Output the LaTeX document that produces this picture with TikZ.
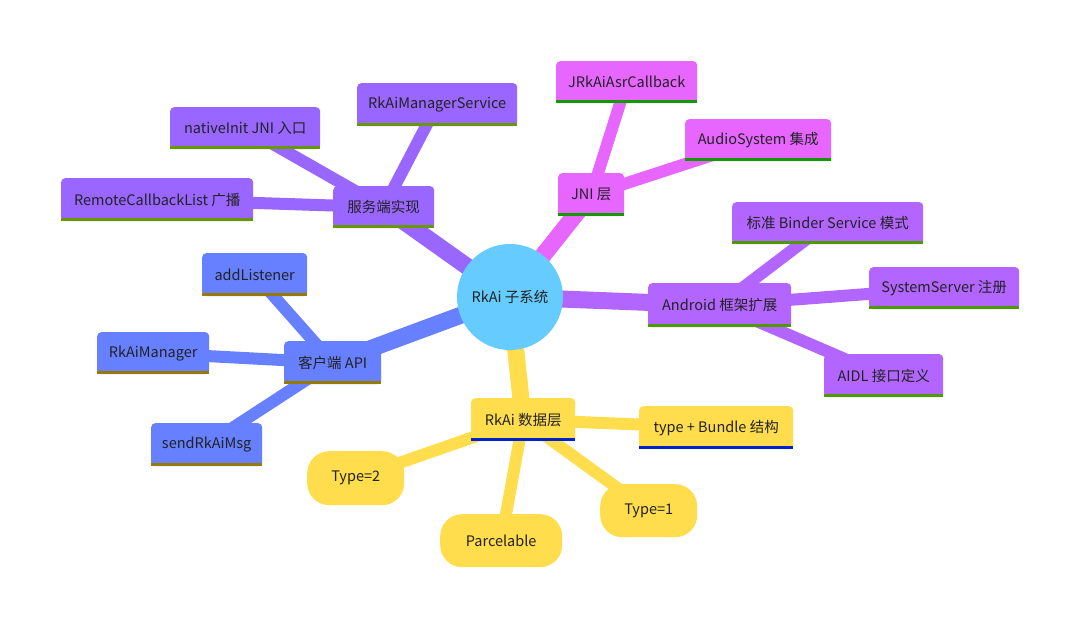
\documentclass[tikz,border=0pt]{standalone}
\usepackage{fontspec}
\setmainfont{Noto Sans CJK SC}
\pgfdeclarelayer{bg}
\pgfsetlayers{bg,main}
\definecolor{rootc}{HTML}{66CCFF}
\definecolor{srvc}{HTML}{9966FF}
\definecolor{srvb}{HTML}{669900}
\definecolor{jnic}{HTML}{E666FF}
\definecolor{jnib}{HTML}{119900}
\definecolor{andc}{HTML}{B366FF}
\definecolor{andb}{HTML}{4C9900}
\definecolor{clic}{HTML}{6680FF}
\definecolor{clib}{HTML}{997A00}
\definecolor{datc}{HTML}{FFDD4D}
\definecolor{datb}{HTML}{0022CC}
\definecolor{txt}{HTML}{222222}
\tikzset{
  mmbox/.style={fill=#1, rounded corners=4pt, anchor=north west, inner sep=0pt, text=txt, font=\fontsize{14.5}{17}\selectfont},
  mmpill/.style={fill=#1, rounded corners=22pt, anchor=north west, inner sep=0pt, text=txt, font=\fontsize{14.5}{17}\selectfont},
  rootedge/.style={draw=#1, line width=17pt},
  leafedge/.style={draw=#1, line width=12pt},
}
% \mmnode{name}{x1}{y1}{x2}{y2}{fill}{border}{text}
\newcommand{\mmnode}[8]{%
  \node[mmbox=#6, minimum width={(#4-#2)*1pt}, minimum height={(#5-#3)*1pt}] (#1) at (#2,#3) {#8};
  \draw[#7, line width=3pt] ([yshift=1.5pt]#1.south west) -- ([yshift=1.5pt]#1.south east);
}
\newcommand{\mmpillnode}[7]{%
  \node[mmpill=#6, minimum width={(#4-#2)*1pt}, minimum height={(#5-#3)*1pt}] (#1) at (#2,#3) {#7};
}
\begin{document}
\begin{tikzpicture}[x=1pt,y=-1pt]
\useasboundingbox (0,0) rectangle (1080,628);
% root
\node[circle, fill=rootc, minimum size=106pt, inner sep=0pt, text=txt, font=\fontsize{14.5}{17}\selectfont] (root) at (510,297) {RkAi 子系统};
% server branch
\mmnode{srv}{333}{186}{434}{228}{srvc}{srvb}{服务端实现}
\mmnode{rms}{357}{83}{517}{126}{srvc}{srvb}{RkAiManagerService}
\mmnode{nat}{170}{107}{320}{149}{srvc}{srvb}{nativeInit JNI 入口}
\mmnode{rcl}{61}{178}{253}{221}{srvc}{srvb}{RemoteCallbackList 广播}
% JNI branch
\mmnode{jni}{558}{173}{624}{216}{jnic}{jnib}{JNI 层}
\mmnode{jrk}{556}{61}{697}{103}{jnic}{jnib}{JRkAiAsrCallback}
\mmnode{aud}{685}{119}{831}{161}{jnic}{jnib}{AudioSystem 集成}
% Android branch
\mmnode{and}{648}{283}{791}{327}{andc}{andb}{Android 框架扩展}
\mmnode{bnd}{732}{202}{923}{244}{andc}{andb}{标准 Binder Service 模式}
\mmnode{sys}{869}{267}{1019}{309}{andc}{andb}{SystemServer 注册}
\mmnode{aidl}{824}{354}{943}{397}{andc}{andb}{AIDL 接口定义}
% client branch
\mmnode{cli}{284}{341}{381}{384}{clic}{clib}{客户端 API}
\mmnode{add}{202}{253}{307}{296}{clic}{clib}{addListener}
\mmnode{mgr}{97}{332}{209}{374}{clic}{clib}{RkAiManager}
\mmnode{snd}{151}{423}{262}{466}{clic}{clib}{sendRkAiMsg}
% data branch
\mmnode{dat}{471}{398}{575}{441}{datc}{datb}{RkAi 数据层}
\mmnode{tbd}{639}{406}{793}{449}{datc}{datb}{type + Bundle 结构}
\mmpillnode{t1}{600}{484}{697}{537}{datc}{Type=1}
\mmpillnode{par}{440}{514}{562}{567}{datc}{Parcelable}
\mmpillnode{t2}{307}{451}{404}{505}{datc}{Type=2}
% edges
\begin{pgfonlayer}{bg}
\fill[white] (0,0) rectangle (1080,628);
\draw[rootedge=srvc] (root.center) -- (srv.center);
\draw[rootedge=jnic] (root.center) -- (jni.center);
\draw[rootedge=andc] (root.center) -- (and.center);
\draw[rootedge=clic] (root.center) -- (cli.center);
\draw[rootedge=datc] (root.center) -- (dat.center);
\draw[leafedge=srvc] (srv.center) -- (rms.center);
\draw[leafedge=srvc] (srv.center) -- (nat.center);
\draw[leafedge=srvc] (srv.center) -- (rcl.center);
\draw[leafedge=jnic] (jni.center) -- (jrk.center);
\draw[leafedge=jnic] (jni.center) -- (aud.center);
\draw[leafedge=andc] (and.center) -- (bnd.center);
\draw[leafedge=andc] (and.center) -- (sys.center);
\draw[leafedge=andc] (and.center) -- (aidl.center);
\draw[leafedge=clic] (cli.center) -- (add.center);
\draw[leafedge=clic] (cli.center) -- (mgr.center);
\draw[leafedge=clic] (cli.center) -- (snd.center);
\draw[leafedge=datc] (dat.center) -- (tbd.center);
\draw[leafedge=datc] (dat.center) -- (t1.center);
\draw[leafedge=datc] (dat.center) -- (par.center);
\draw[leafedge=datc] (dat.center) -- (t2.center);
\end{pgfonlayer}
\end{tikzpicture}
\end{document}
